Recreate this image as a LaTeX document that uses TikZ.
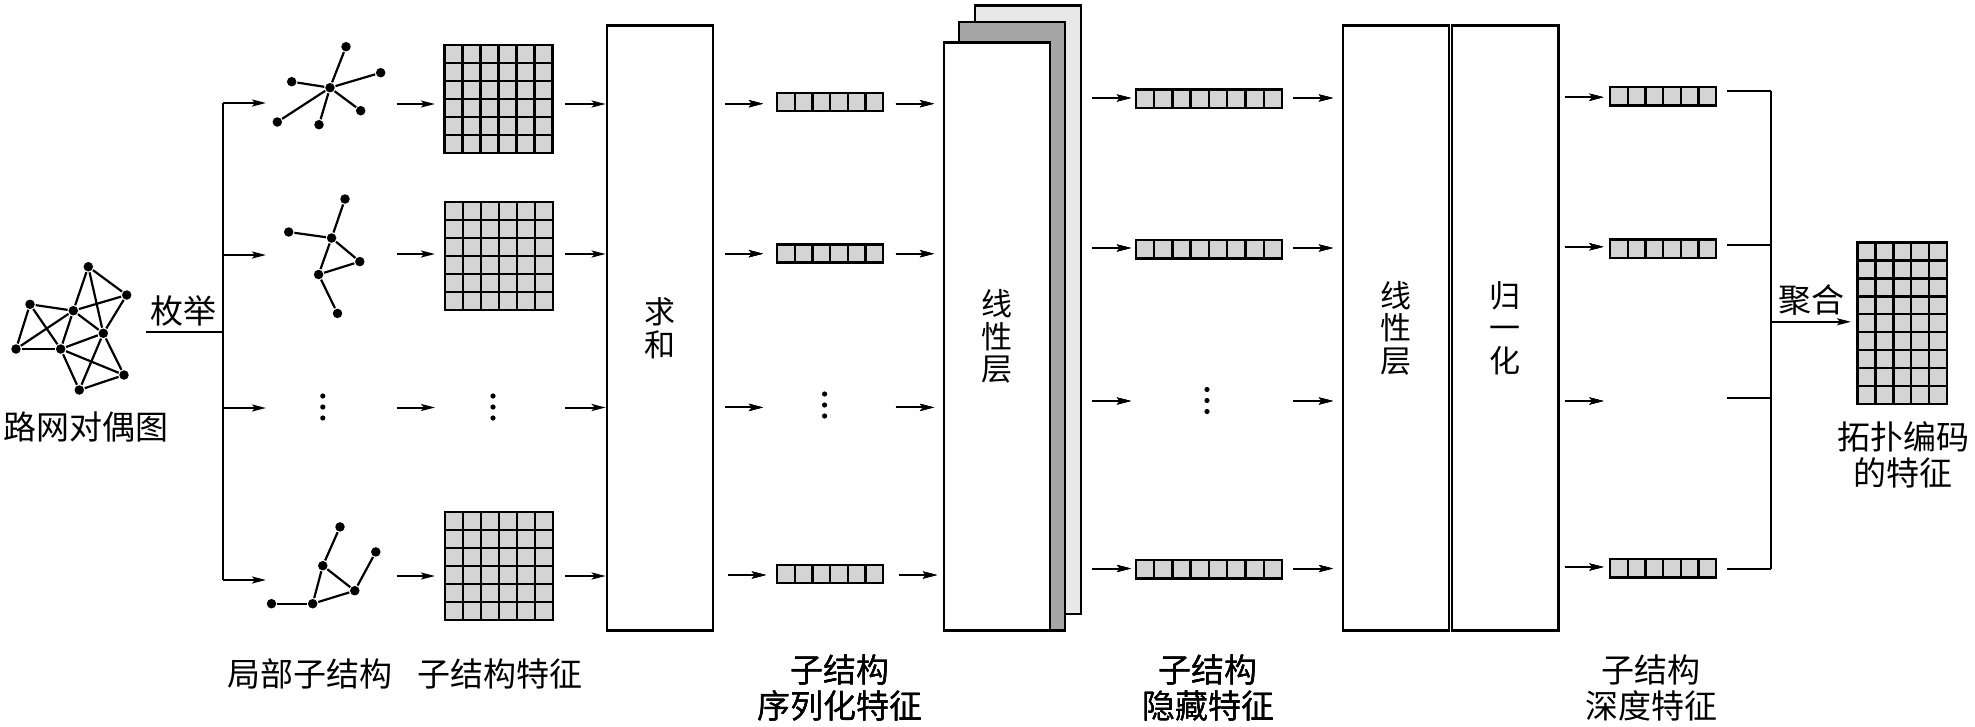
\documentclass[tikz,border=0pt]{standalone}
\usepackage{fontspec}
\setmainfont{Noto Sans CJK SC}
\usetikzlibrary{arrows.meta}
\definecolor{cellgray}{gray}{0.83}
\definecolor{stackdark}{gray}{0.65}
\definecolor{stacklight}{gray}{0.91}
\tikzset{
  arr/.style = {-{Stealth[length = 14pt, width = 7pt, inset = 3pt]}, line width = 2pt},
  dot/.style = {circle, fill = black, inner sep = 0pt, minimum size = 9.5pt},
  link/.style = {line width = 2.2pt},
  block/.style = {draw, line width = 2.4pt, inner sep = 0pt, minimum width = 106pt, minimum height = 605pt, align = center, font = \fontsize{31}{32.5}\selectfont},
  txt/.style = {inner sep = 0pt, align = center, font = \fontsize{33}{36}\selectfont}
}
\newcommand{\featgrid}[6]{%
  \foreach \i in {1, ..., #3}
    \foreach \j in {1, ..., #4}
      \draw[fill = cellgray, line width = 2.4pt] ({#1 + (\i - 1) * #5}, {#2 + (\j - 1) * #6}) rectangle ++(#5, #6);
}
\begin{document}
\begin{tikzpicture}[x = 1pt, y = -1pt, line width = 2pt]
  \useasboundingbox (0, 0) rectangle (1975, 726);
  \foreach \n/\x/\y in {ga/88.3/266.7, gb/126.7/295, gc/30/304.3, gd/73.3/310.7, ge/103.3/333.3, gf/16/349, gg/60.7/349, gh/124/375, gi/79.3/390}
    \node[dot] (\n) at (\x, \y) {};
  \foreach \u/\v in {ga/gb, ga/gd, ga/ge, gb/gd, gb/ge, gc/gd, gc/gf, gc/gg, gf/gg, gf/gd, gd/gg, gd/ge, gg/ge, gg/gh, gg/gi, ge/gh, ge/gi, gi/gh}
    \draw[link] (\u) -- (\v);
  \node[txt] (dual) at (85.5, 427) {路网对偶图};
  \node[txt] (enum) at (183.5, 311) {枚举};
  \draw (146, 332) -- (223, 332);
  \draw (223, 103) -- (223, 580);
  \foreach \y in {103, 255, 408, 580}
    \draw[arr] (223, \y) -- (266, \y);

  \foreach \n/\x/\y in {s0/330/87.7, s1/346/46.7, s2/380.7/72.7, s3/360.7/110.7, s4/319/124.7, s5/277.3/122, s6/291.7/81.7}
    \node[dot] (\n) at (\x, \y) {};
  \foreach \i in {1, ..., 6}
    \draw[link] (s0) -- (s\i);
  \foreach \n/\x/\y in {b1/345/199, b2/288.7/232, b3/331.6/238, b4/359.8/261.6, b5/318.6/274.5, b6/337.5/313.4}
    \node[dot] (\n) at (\x, \y) {};
  \foreach \u/\v in {b1/b3, b2/b3, b3/b4, b3/b5, b4/b5, b5/b6}
    \draw[link] (\u) -- (\v);
  \foreach \n/\x/\y in {c1/340/526.9, c2/375.8/551.9, c3/322.8/565.7, c4/354.8/590.7, c5/312.7/603.7, c6/271.5/603.7}
    \node[dot] (\n) at (\x, \y) {};
  \foreach \u/\v in {c1/c3, c2/c4, c3/c4, c3/c5, c4/c5, c5/c6}
    \draw[link] (\u) -- (\v);

  \featgrid{444.5}{45}{6}{6}{18}{18}
  \featgrid{445}{202}{6}{6}{18}{18}
  \featgrid{445}{512}{6}{6}{18}{18}
  \foreach \x/\y in {322.8/407, 493/407, 824.6/405, 1207/400.5}
    \foreach \d in {-11, 0, 11}
      \fill (\x, \y + \d) circle [radius = 2.6pt];

  \node[block] (sum) at (659.85, 328) {求\\和};
  \foreach \y in {104, 254, 407.5, 576} {
    \draw[arr] (396.7, \y) -- (435, \y);
    \draw[arr] (565, \y) -- (sum.west |- 565, \y);
  }
  \node[txt] (localsub) at (310, 673.6) {局部子结构};
  \node[txt] (subfeat) at (500, 673.6) {子结构特征};

  \foreach \y in {93, 244.5, 565}
    \featgrid{777}{\y}{6}{1}{17.7}{18}
  \foreach \y/\d in {103.7/0, 253.7/0, 407.4/0, 575/3} {
    \draw[arr] (725 + \d, \y) -- (763 + \d, \y);
    \draw[arr] (895.5 + \d, \y) -- (934 + \d, \y);
  }
  \node[txt] (serial) at (840, 688) {子结构\\序列化特征};

  \draw[fill = stacklight, line width = 2.4pt] (975, 5.3) rectangle (1081, 614);
  \draw[fill = stackdark, line width = 2.4pt] (959, 22) rectangle (1065, 630.5);
  \node[block, fill = white, minimum height = 588pt] (linear) at (997, 336.5) {线\\性\\层};

  \foreach \y in {89.4, 239.8, 560}
    \featgrid{1135.7}{\y}{8}{1}{18.3}{18.5}
  \foreach \y in {98, 248, 401, 568.5} {
    \draw[arr] (1092.4, \y) -- (1131, \y);
    \draw[arr] (1293, \y) -- (1333, \y);
  }
  \node[txt] (hidden) at (1208, 688) {子结构\\隐藏特征};

  \node[block] (linear2) at (1396, 328) {线\\性\\层};
  \node[block, minimum width = 106.3pt] (norm) at (1505.2, 328) {归\\一\\化};

  \foreach \y in {87, 239.4, 558.8}
    \featgrid{1610}{\y}{6}{1}{17.7}{18.5}
  \foreach \y in {97.2, 246.8, 401, 567}
    \draw[arr] (1564.7, \y) -- (1603.5, \y);
  \foreach \y in {91.2, 245, 398, 568.5}
    \draw (1727, \y) -- (1771, \y);
  \draw (1771, 91.2) -- (1771, 568.5);
  \draw[arr] (1771, 321.8) -- (1851, 321.8);
  \node[txt] (agg) at (1811.6, 300) {聚合};
  \node[txt] (depth) at (1651, 688) {子结构\\深度特征};

  \featgrid{1857.5}{242.6}{5}{9}{17.9}{17.9}
  \node[txt] (topo) at (1903, 454.5) {拓扑编码\\的特征};
\end{tikzpicture}
\end{document}
